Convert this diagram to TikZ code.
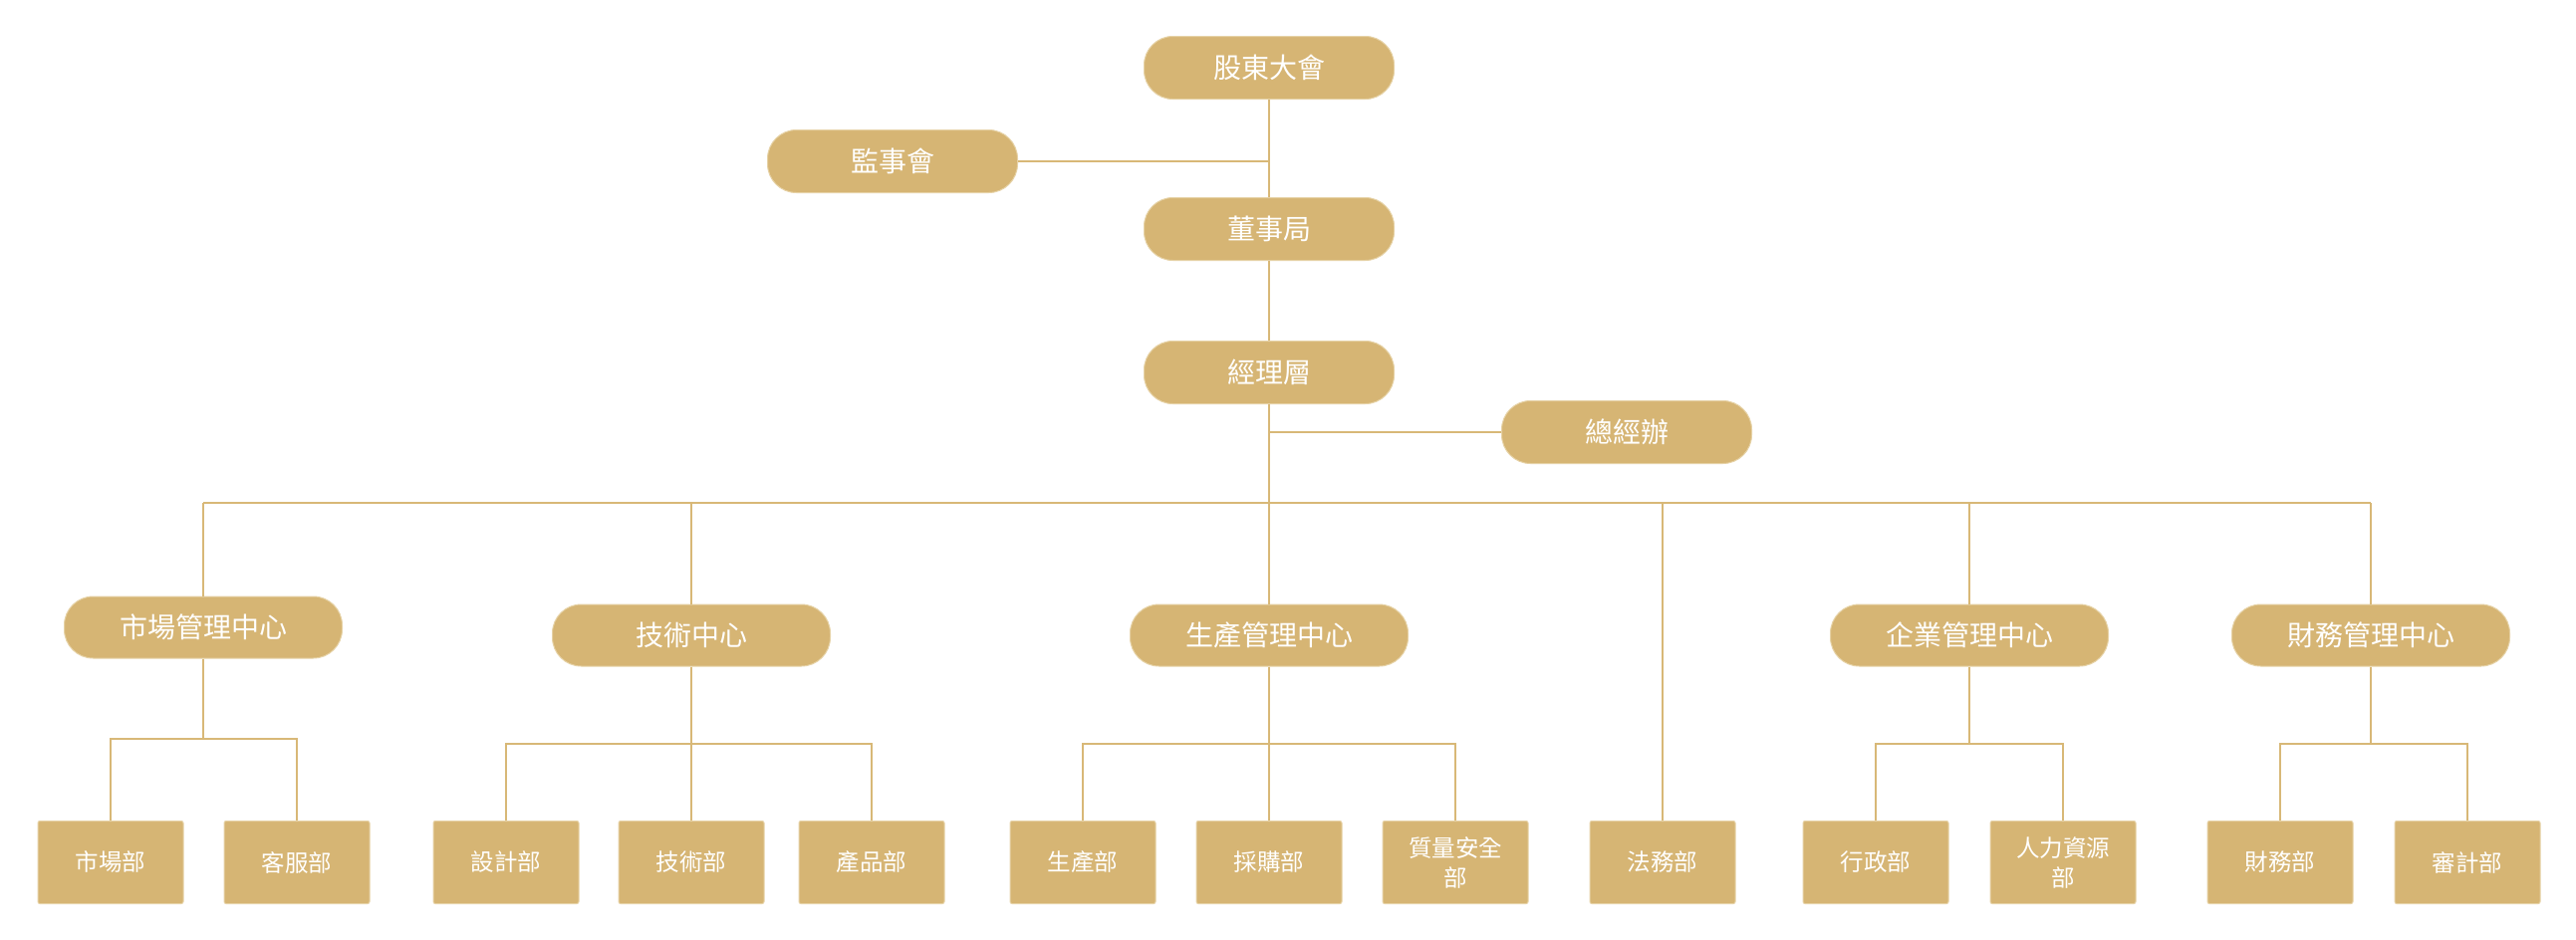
\documentclass[tikz,border=0pt]{standalone}
\usepackage{fontspec}
\newfontfamily\cjk{Noto Sans CJK TC}
\definecolor{gold}{HTML}{D6B574}
\definecolor{goldline}{HTML}{D8B877}
\definecolor{goldedge}{HTML}{E6D2A6}
\begin{document}
\begin{tikzpicture}[x=1pt,y=-1pt,
  topbox/.style={fill=gold,draw=goldedge,line width=1pt,rounded corners=29pt,minimum width=251pt,minimum height=63pt,inner sep=0pt,text=white,font=\cjk\fontsize{28}{34}\selectfont},
  midbox/.style={fill=gold,draw=goldedge,line width=1pt,rounded corners=29pt,minimum width=279pt,minimum height=62pt,inner sep=0pt,text=white,font=\cjk\fontsize{28}{34}\selectfont},
  depbox/.style={fill=gold,draw=goldedge,line width=1pt,rounded corners=2pt,minimum width=146pt,minimum height=83pt,inner sep=0pt,text=white,align=center,font=\cjk\fontsize{23.5}{30}\selectfont},
  conn/.style={draw=goldline,line width=2.5pt}]
\useasboundingbox (0,0) rectangle (2586,943);
% top level
\node[topbox] (sh) at (1274,68) {股東大會};
\node[topbox] (sup) at (896,162) {監事會};
\node[topbox] (bd) at (1274,230) {董事局};
\node[topbox] (mgr) at (1274,374) {經理層};
\node[topbox] (gmo) at (1633,434) {總經辦};
% middle level
\node[midbox] (mktc) at (204,630) {市場管理中心};
\node[midbox] (tech) at (694,638) {技術中心};
\node[midbox] (prod) at (1274,638) {生產管理中心};
\node[midbox] (ent) at (1977,638) {企業管理中心};
\node[midbox] (finc) at (2380,638) {財務管理中心};
% departments
\node[depbox] (d1) at (111,866) {市場部};
\node[depbox] (d2) at (298,866) {客服部};
\node[depbox] (d3) at (508,866) {設計部};
\node[depbox] (d4) at (694,866) {技術部};
\node[depbox] (d5) at (875,866) {產品部};
\node[depbox] (d6) at (1087,866) {生產部};
\node[depbox] (d7) at (1274,866) {採購部};
\node[depbox] (d8) at (1461,866) {質量安全\\部};
\node[depbox] (law) at (1669,866) {法務部};
\node[depbox] (d10) at (1883,866) {行政部};
\node[depbox] (d11) at (2071,866) {人力資源\\部};
\node[depbox] (d12) at (2289,866) {財務部};
\node[depbox] (d13) at (2477,866) {審計部};
% bus levels
\coordinate (busy) at (0,505);
\coordinate (suba) at (0,742);
\coordinate (subb) at (0,747);
% top connectors
\draw[conn] (sh.south) -- (bd.north);
\draw[conn] (sup.east) -- (sup.east -| sh.south);
\draw[conn] (bd.south) -- (mgr.north);
\draw[conn] (mgr.south) -- (mgr.south |- busy);
\draw[conn] (gmo.west) -- (gmo.west -| mgr.south);
\draw[conn] (mktc.north |- busy) -- (finc.north |- busy);
\foreach \n in {mktc,tech,prod,law,ent,finc}
  \draw[conn] (\n.north) -- (\n.north |- busy);
% sub groups
\draw[conn] (mktc.south) -- (mktc.south |- suba);
\draw[conn] (d1.north) -- (d1.north |- suba) -- (d2.north |- suba) -- (d2.north);
\draw[conn] (tech.south) -- (d4.north);
\draw[conn] (d3.north) -- (d3.north |- subb) -- (d5.north |- subb) -- (d5.north);
\draw[conn] (prod.south) -- (d7.north);
\draw[conn] (d6.north) -- (d6.north |- subb) -- (d8.north |- subb) -- (d8.north);
\draw[conn] (ent.south) -- (ent.south |- subb);
\draw[conn] (d10.north) -- (d10.north |- subb) -- (d11.north |- subb) -- (d11.north);
\draw[conn] (finc.south) -- (finc.south |- subb);
\draw[conn] (d12.north) -- (d12.north |- subb) -- (d13.north |- subb) -- (d13.north);
\end{tikzpicture}
\end{document}
